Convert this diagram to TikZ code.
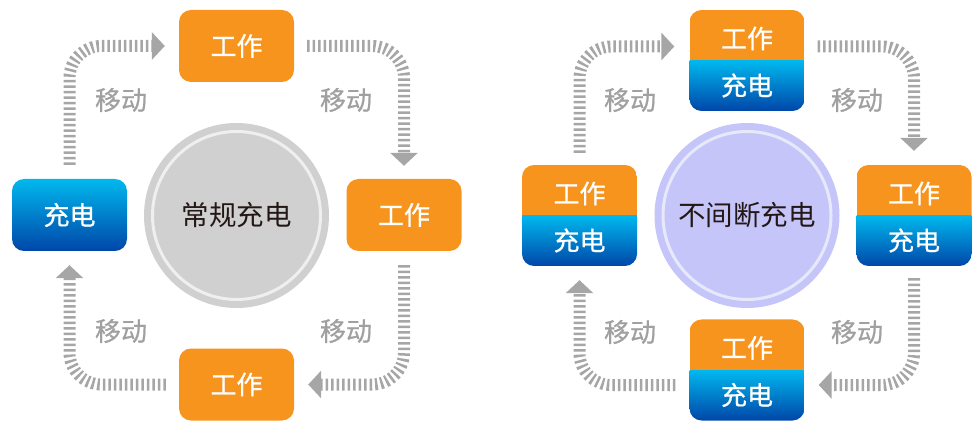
\documentclass[tikz,border=0pt]{standalone}
\usepackage{fontspec}
\newfontfamily\cjk{Noto Sans CJK SC}
\newfontfamily\cjkm[FakeBold=0.7]{Noto Sans CJK SC}
\usetikzlibrary{arrows.meta,calc}
\definecolor{orng}{HTML}{F7941E}
\definecolor{bluetop}{HTML}{00B8EE}
\definecolor{bluebot}{HTML}{0046A8}
\definecolor{arrgray}{HTML}{A6A6A6}
\definecolor{lblgray}{HTML}{A0A0A0}
\definecolor{diskgray}{HTML}{D0D0D0}
\definecolor{ringgray}{HTML}{EFEFEF}
\definecolor{disklav}{HTML}{C5C5FA}
\definecolor{ringlav}{HTML}{E8E8FB}
\definecolor{darktext}{HTML}{231815}
\begin{document}
\begin{tikzpicture}[x=1pt,y=-1pt,
  boxbase/.style={rectangle, rounded corners=12pt, minimum width=115pt, inner sep=0pt, text=white, font=\cjkm\fontsize{26}{26}\selectfont},
  workbox/.style={boxbase, fill=orng, minimum height=72pt},
  chargebox/.style={boxbase, top color=bluetop, bottom color=bluebot, minimum height=72pt},
  dualbox/.style={boxbase, minimum height=101pt,
    path picture={
      \fill[orng, sharp corners] (path picture bounding box.north west) rectangle (path picture bounding box.east);
      \shade[top color=bluetop, bottom color=bluebot, sharp corners] (path picture bounding box.west) rectangle (path picture bounding box.south east);
    }},
  wtext/.style={text=white, inner sep=0pt, font=\cjkm\fontsize{26}{26}\selectfont},
  outerdisk/.style={circle, minimum size=185pt, inner sep=0pt},
  ringdisk/.style={circle, minimum size=168pt, inner sep=0pt, line width=3pt, text=darktext, font=\cjk\fontsize{27.5}{27.5}\selectfont},
  movelbl/.style={text=lblgray, inner sep=0pt, font=\cjkm\fontsize{26}{26}\selectfont},
  move/.style={draw=arrgray, line width=12pt, dash pattern=on 2.5pt off 3pt, rounded corners=32pt,
    -{Triangle[length=13pt,width=27pt]}}
]
\useasboundingbox (0,0) rectangle (980,430);

% ---------- left diagram ----------
\node[outerdisk, fill=diskgray] (C1) at (236.5,215.5) {};
\node[ringdisk, draw=ringgray] (C1t) at (C1) {常规充电};

\node[workbox] (T1) at (236.5,46) {工作};
\node[chargebox] (L1) at (69.5,215) {充电};
\node[workbox] (R1) at (404,215) {工作};
\node[workbox] (B1) at (236.5,384.5) {工作};

\draw[move, shorten <=14pt, shorten >=14pt] (L1.north) |- (T1.west);
\draw[move, shorten <=13pt, shorten >=13pt] (T1.east) -| (R1.north);
\draw[move, shorten <=14pt, shorten >=14pt] (R1.south) |- (B1.east);
\draw[move, shorten <=13pt, shorten >=14pt] (B1.west) -| (L1.south);

\node[movelbl] (m1) at (121,100) {移动};
\node[movelbl] (m2) at (346,100) {移动};
\node[movelbl] (m3) at (121,331) {移动};
\node[movelbl] (m4) at (346,331) {移动};

% ---------- right diagram ----------
\node[outerdisk, fill=disklav] (C2) at (747,215.5) {};
\node[ringdisk, draw=ringlav] (C2t) at (C2) {不间断充电};

\node[dualbox] (T2) at (747,60.5) {};
\node[dualbox] (L2) at (579.5,215.5) {};
\node[dualbox] (R2) at (914,215.5) {};
\node[dualbox] (B2) at (747,370) {};

\foreach \b in {T2,L2,R2,B2}{
  \node[wtext] (\b w) at ($(\b.center)+(0,-22)$) {工作};
  \node[wtext] (\b c) at ($(\b.center)+(0,25)$) {充电};
}

\coordinate (T2wl) at ($(T2.west)+(0,-14)$);
\coordinate (T2er) at ($(T2.east)+(0,-14)$);
\coordinate (B2er) at ($(B2.east)+(0,15)$);
\coordinate (B2wl) at ($(B2.west)+(0,15)$);

\draw[move, shorten <=12pt, shorten >=15pt] (L2.north) |- (T2wl);
\draw[move, shorten <=13pt, shorten >=14pt] (T2er) -| (R2.north);
\draw[move, shorten <=12pt, shorten >=14pt] (R2.south) |- (B2er);
\draw[move, shorten <=14pt, shorten >=14pt] (B2wl) -| (L2.south);

\node[movelbl] (m5) at (630,100) {移动};
\node[movelbl] (m6) at (857,100) {移动};
\node[movelbl] (m7) at (630,332) {移动};
\node[movelbl] (m8) at (857,332) {移动};
\end{tikzpicture}
\end{document}
